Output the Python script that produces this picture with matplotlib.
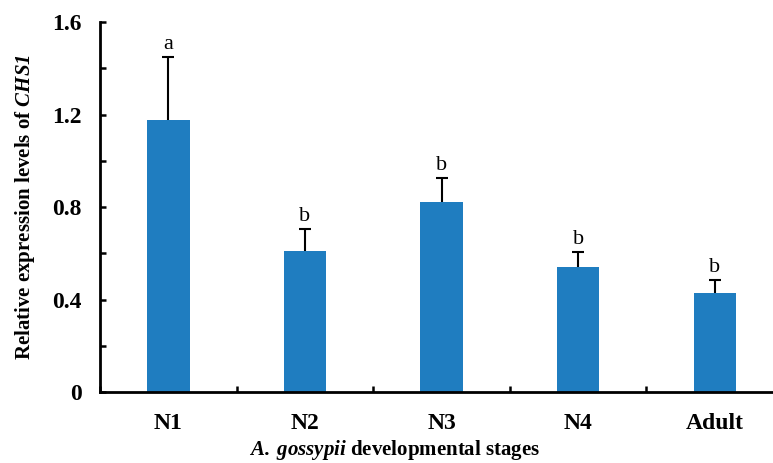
import numpy as np
import matplotlib
matplotlib.use('Agg')
import matplotlib.pyplot as plt
from matplotlib.ticker import MultipleLocator

stages = ['N1', 'N2', 'N3', 'N4', 'Adult']
means = [1.176, 0.61, 0.822, 0.54, 0.428]
errs = [0.273, 0.095, 0.103, 0.065, 0.056]
letters = ['a', 'b', 'b', 'b', 'b']

plt.rcParams['font.family'] = 'Liberation Serif'
plt.rcParams['mathtext.fontset'] = 'custom'
plt.rcParams['mathtext.rm'] = 'Liberation Serif:bold'
# sf used as bold italic so digits and dots stay italic too
plt.rcParams['mathtext.sf'] = 'Liberation Serif:italic:bold'

fig = plt.figure(figsize=(7.73, 4.63), dpi=100)
ax = fig.add_axes([0.1294, 0.1533, 0.8836, 0.7991])

x = np.arange(len(stages))
ax.bar(x, means, width=0.31, color='#1f7dc0', zorder=2)
eb = ax.errorbar(x, means, yerr=[np.zeros(len(errs)), errs], fmt='none',
                 ecolor='black', elinewidth=1.5, capsize=4, capthick=1.5, zorder=3)
# only the upper cap
eb[1][0].set_visible(False)

for xi, m, e, l in zip(x, means, errs, letters):
    ax.text(xi, m + e + 0.012, l, ha='center', va='bottom', fontsize=16)

ax.set_xlim(-0.5, 4.5)
ax.set_ylim(0, 1.6)
ax.set_xticks(x)
ax.set_xticklabels(stages, fontsize=17, fontweight='bold')
ax.set_xticks(np.arange(-0.5, 5, 1), minor=True)
ax.tick_params(axis='x', which='major', length=0, pad=15)
ax.tick_params(axis='x', which='minor', direction='in', length=4, width=1.8)

ax.yaxis.set_major_locator(MultipleLocator(0.4))
ax.yaxis.set_minor_locator(MultipleLocator(0.2))
ax.set_yticks([0, 0.4, 0.8, 1.2, 1.6])
ax.set_yticklabels(['0', '0.4', '0.8', '1.2', '1.6'], fontsize=17, fontweight='bold')
ax.tick_params(axis='y', which='both', direction='in', length=4, width=1.8, pad=13)

for s in ['top', 'right']:
    ax.spines[s].set_visible(False)
for s in ['left', 'bottom']:
    ax.spines[s].set_linewidth(2)

ax.set_ylabel('Relative expression levels of $\\mathsf{CHS1}$', fontsize=15)
ax.yaxis.label.set_fontweight('bold')
ax.yaxis.set_label_coords(-0.092, 0.5)
ax.set_xlabel('$\\mathsf{A.\\,gossypii}$ developmental stages', fontsize=15,
              fontweight='bold')
ax.xaxis.set_label_coords((395 - 100) / 683, -0.125)

plt.savefig('out.png', dpi=100)
